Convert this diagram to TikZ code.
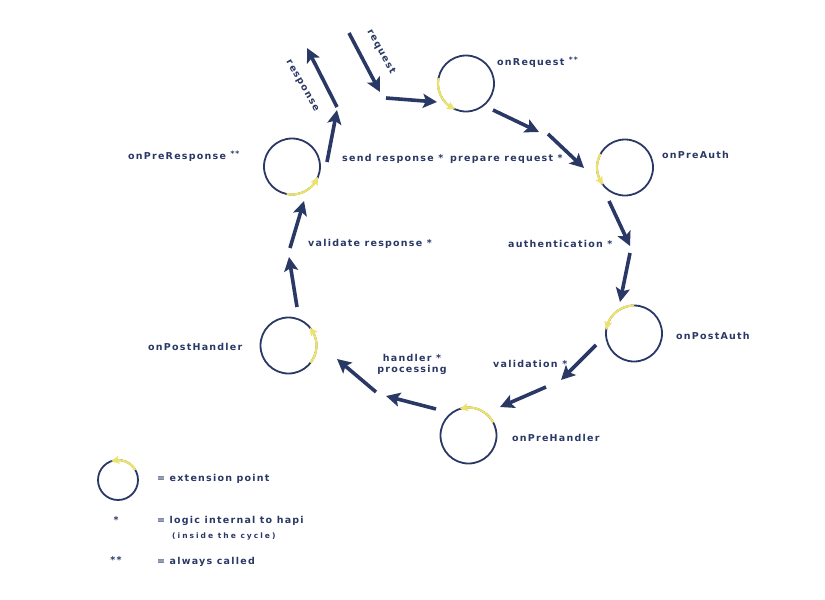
\documentclass[tikz,border=0pt]{standalone}
\usepackage{fontspec}
\usepackage{xcolor}
\usetikzlibrary{arrows.meta,bending}
\newfontfamily\hapifont[LetterSpace=13]{DejaVu Sans}
\newfontfamily\hapismall[LetterSpace=27]{DejaVu Sans}
\definecolor{hpNavy}{HTML}{2A3866}
\definecolor{hpYellow}{HTML}{ECE26C}
\newcommand\alw{ \raisebox{2.5pt}{\fontsize{7.5}{8}\selectfont **}}

\begin{document}
\begin{tikzpicture}[
  x=1pt, y=-1pt,
  font=\hapifont\bfseries\fontsize{9.5}{11}\selectfont,
  ext/.style={circle, draw=hpNavy, line width=1.8pt, minimum size=56pt, inner sep=0pt, outer sep=0pt},
  hook/.style={draw=hpYellow, line width=2.2pt, -{Stealth[length=8pt, width=8pt, inset=1.5pt]}},
  flow/.style={draw=hpNavy, line width=3.6pt, -{Stealth[length=14pt, width=14pt, inset=3pt]}},
  lbl/.style={text=hpNavy, inner sep=0pt, anchor=base west},
  note/.style={text=hpNavy, inner sep=0pt, align=center},
]
\useasboundingbox (0,0) rectangle (825,600);

% ── Extension points ─────────────────────────────────────────────────────────
\node[ext] (onRequest)     at (466,83.5)  {};
\node[ext] (onPreAuth)     at (625,167.5) {};
\node[ext] (onPostAuth)    at (634,333.5) {};
\node[ext] (onPreHandler)  at (468.5,435.5) {};
\node[ext] (onPostHandler) at (288.5,345.5) {};
\node[ext] (onPreResponse) at (292,166.5) {};

% yellow hooks on each circle
\foreach \n/\s/\e in {onRequest/169/247, onPreAuth/151/218, onPostAuth/90/172,
                      onPreHandler/28/108, onPostHandler/-38/40, onPreResponse/-101/-22}{
  \draw[hook] (\n.\s) arc[start angle=\s, end angle=\e, radius=28pt];
}

% ── Lifecycle arrows ─────────────────────────────────────────────────────────
\coordinate (rq0) at (349,33);   \coordinate (rq1) at (380,92);
\coordinate (f1a) at (386,98);   \coordinate (f1b) at (437,102);
\coordinate (f2a) at (493,110);  \coordinate (f2b) at (539,132);
\coordinate (f3a) at (548,134);  \coordinate (f3b) at (584,168);
\coordinate (f4a) at (609,201);  \coordinate (f4b) at (630,246);
\coordinate (f5a) at (630,253);  \coordinate (f5b) at (620,302);
\coordinate (f6a) at (596,345);  \coordinate (f6b) at (561,380);
\coordinate (f7a) at (546,387);  \coordinate (f7b) at (500,407);
\coordinate (f8a) at (436,409);  \coordinate (f8b) at (386,396);
\coordinate (f9a) at (376,392);  \coordinate (f9b) at (337,359);
\coordinate (fAa) at (297,307);  \coordinate (fAb) at (289,257);
\coordinate (fBa) at (290,248);  \coordinate (fBb) at (304,201);
\coordinate (fCa) at (327,162);  \coordinate (fCb) at (337,110);
\coordinate (rs0) at (337,107);  \coordinate (rs1) at (307,48);

\foreach \a/\b in {rq0/rq1, f1a/f1b, f2a/f2b, f3a/f3b, f4a/f4b, f5a/f5b, f6a/f6b,
                   f7a/f7b, f8a/f8b, f9a/f9b, fAa/fAb, fBa/fBb, fCa/fCb, rs0/rs1}{
  \draw[flow] (\a) -- (\b);
}

% ── Labels ───────────────────────────────────────────────────────────────────
\node[note, rotate=-61] (lRequest)  at (381,52) {request};
\node[note, rotate=-60] (lResponse) at (302,86) {response};

\node[lbl] (lOnRequest)     at (497,65)  {onRequest\alw};
\node[lbl] (lOnPreAuth)     at (662,158) {onPreAuth};
\node[lbl] (lAuth)          at (508,247) {authentication *};
\node[lbl] (lOnPostAuth)    at (676,339) {onPostAuth};
\node[lbl] (lValidation)    at (493,367) {validation *};
\node[lbl] (lOnPreHandler)  at (512,441) {onPreHandler};
\node[note] (lHandler)      at (412,364) {handler *\\processing};
\node[lbl] (lOnPostHandler) at (148,350) {onPostHandler};
\node[lbl] (lValidateResp)  at (308,246) {validate response *};
\node[lbl] (lOnPreResponse) at (128,159) {onPreResponse\alw};
\node[lbl] (lSendResp)      at (342,161) {send response *};
\node[lbl] (lPrepReq)       at (450,161) {prepare request *};

% ── Legend ───────────────────────────────────────────────────────────────────
\node[ext, minimum size=40pt] (legendExt) at (118,480) {};
\draw[hook] (legendExt.30) arc[start angle=30, end angle=110, radius=20pt];
\node[lbl] (lExtPoint) at (157,481) {= extension point};
\node[note] (lStar)    at (116,520) {*};
\node[lbl] (lInternal) at (157,523) {= logic internal to hapi};
\node[lbl, font=\hapismall\bfseries\fontsize{7.5}{9}\selectfont] (lInside) at (172,538) {(inside the cycle)};
\node[note] (lStars)   at (116,560) {**};
\node[lbl] (lAlways)   at (157,564) {= always called};

\end{tikzpicture}
\end{document}
